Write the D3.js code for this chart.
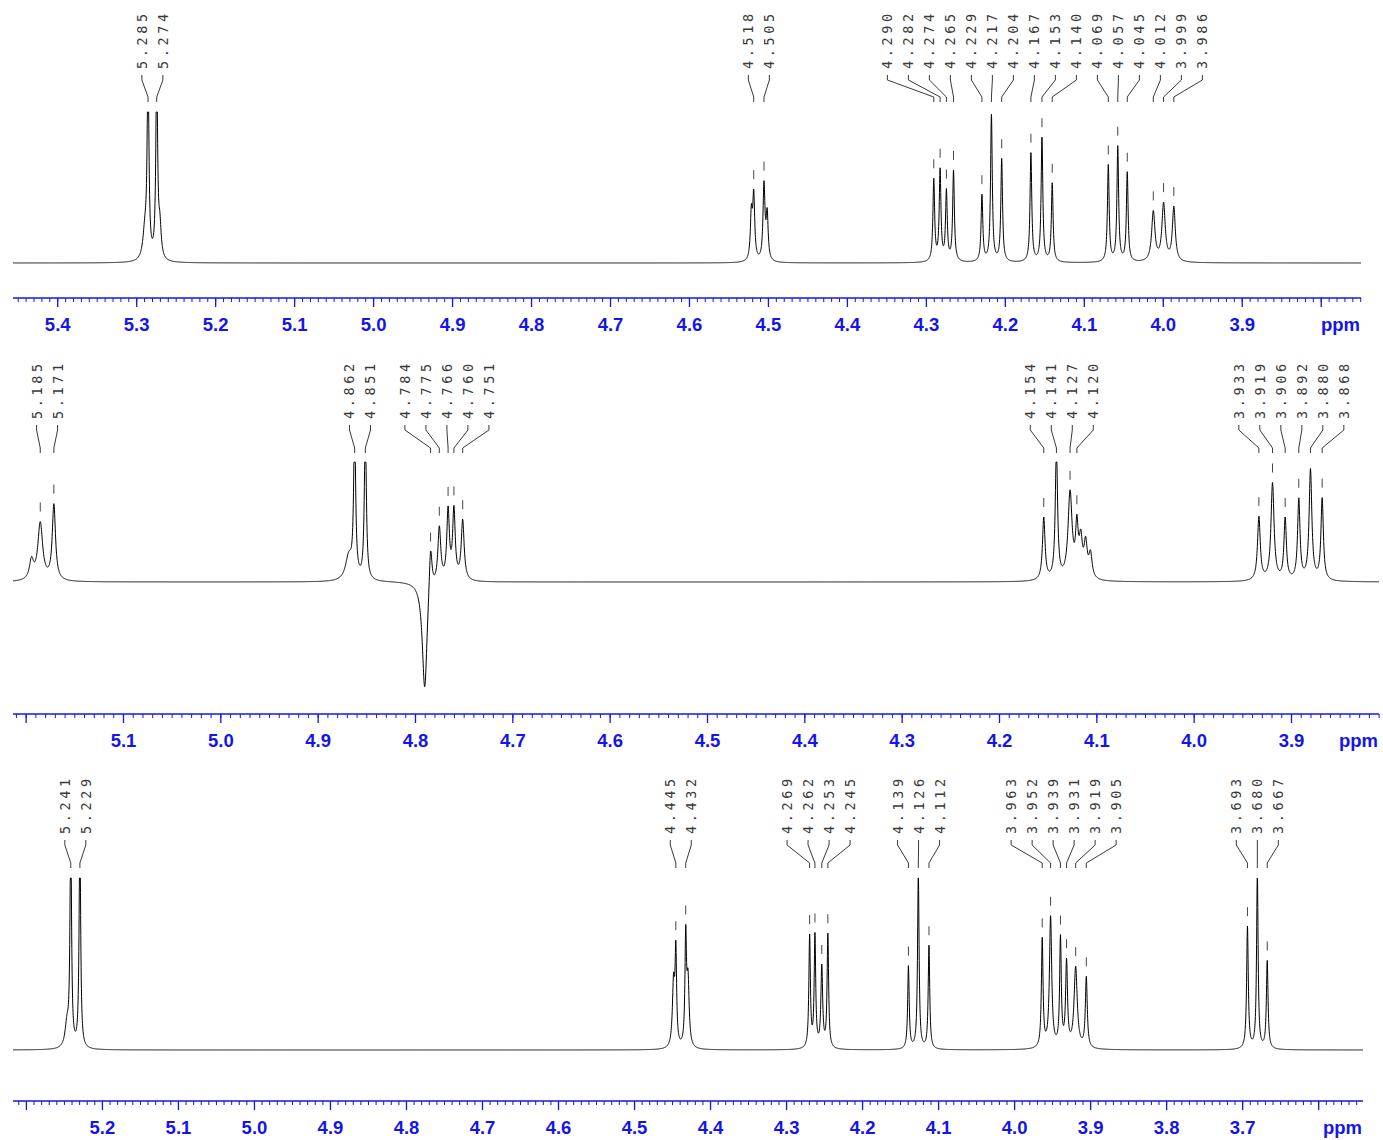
<!DOCTYPE html>
<html>
<head>
<meta charset="utf-8">
<script src="https://cdn.jsdelivr.net/npm/d3@7"></script>
<style>
  html, body { margin: 0; padding: 0; background: #fff; }
  svg { display: block; }
</style>
</head>
<body>
<svg id="chart" width="1383" height="1140"></svg>
<script>
// ---------------- DATA ----------------
// Panel 1
const domain1 = [5.456, 3.749];
const tickLabels1 = ["5.4","5.3","5.2","5.1","5.0","4.9","4.8","4.7","4.6","4.5","4.4","4.3","4.2","4.1","4.0","3.9"];
const labels1  = ["5.285","5.274","4.518","4.505","4.290","4.282","4.274","4.265","4.229","4.217","4.204","4.167","4.153","4.140","4.069","4.057","4.045","4.012","3.999","3.986"];
const heights1 = [130,130,42,50,54,60,46,60,44,97,68,72,82,52,64,76,59,33,38,36];
const widths1  = [0.0013,0.0013,0.0015,0.0015,0.0013,0.0013,0.0013,0.0013,0.0013,0.0013,0.0013,0.0013,0.0013,0.0013,0.0013,0.0013,0.0013,0.0025,0.0025,0.0022];
const extraPpm1    = [5.289, 5.270, 4.521, 4.501];
const extraHeight1 = [18, 20, 30, 30];
const extraWidth1  = [0.003, 0.002, 0.0015, 0.0015];

// Panel 2
const domain2 = [5.213, 3.8096];
const tickLabels2 = ["5.1","5.0","4.9","4.8","4.7","4.6","4.5","4.4","4.3","4.2","4.1","4.0","3.9"];
const labels2  = ["5.185","5.171","4.862","4.851","4.784","4.775","4.766","4.760","4.751","4.154","4.141","4.127","4.120","3.933","3.919","3.906","3.892","3.880","3.868"];
const heights2 = [48,63,130,130,41,46,58,58,50,52,110,72,40,53,81,51,67,92,68];
const widths2  = [0.003,0.002,0.0012,0.0012,0.0018,0.0018,0.0016,0.0016,0.0018,0.0016,0.0014,0.0025,0.0016,0.0017,0.0019,0.0015,0.0015,0.0017,0.0015];
const extraPpm2    = [5.194, 4.868, 4.790, 4.116, 4.111, 4.106];
const extraHeight2 = [16, 20, -92, 30, 28, 20];
const extraWidth2  = [0.0025, 0.004, 0.003, 0.002, 0.002, 0.002];

// Panel 3
const domain3 = [5.317, 3.541];
const tickLabels3 = ["5.2","5.1","5.0","4.9","4.8","4.7","4.6","4.5","4.4","4.3","4.2","4.1","4.0","3.9","3.8","3.7"];
const labels3  = ["5.241","5.229","4.445","4.432","4.269","4.262","4.253","4.245","4.139","4.126","4.112","3.963","3.952","3.939","3.931","3.919","3.905","3.693","3.680","3.667"];
const heights3 = [130,130,53,62,65,65,47,66,48,102,60,63,76,63,49,47,41,71,102,51];
const widths3  = [0.0012,0.0012,0.0012,0.0012,0.0012,0.0012,0.0014,0.0012,0.0012,0.0012,0.0012,0.0013,0.0018,0.0013,0.0015,0.0025,0.0015,0.0013,0.0012,0.0013];
const extraPpm3    = [5.246, 4.448, 4.429];
const extraHeight3 = [13, 37, 38];
const extraWidth3  = [0.003, 0.0018, 0.0018];

// ---------------- DRAWING ----------------
const AXIS_BLUE = "#1414ee";
const svg = d3.select("#chart");

const panels = [
  { labels: labels1, heights: heights1, widths: widths1, ePpm: extraPpm1, eH: extraHeight1, eW: extraWidth1,
    domain: domain1, tickLabels: tickLabels1,
    x0: 13, x1: 1361, textBottom: 69, connBottom: 102, clipTop: 112, baseline: 263, axisY: 298 },
  { labels: labels2, heights: heights2, widths: widths2, ePpm: extraPpm2, eH: extraHeight2, eW: extraWidth2,
    domain: domain2, tickLabels: tickLabels2,
    x0: 13, x1: 1379, textBottom: 419, connBottom: 453, clipTop: 462, baseline: 582, axisY: 714 },
  { labels: labels3, heights: heights3, widths: widths3, ePpm: extraPpm3, eH: extraHeight3, eW: extraWidth3,
    domain: domain3, tickLabels: tickLabels3,
    x0: 13, x1: 1363, textBottom: 834, connBottom: 868, clipTop: 878, baseline: 1050, axisY: 1101 }
];

panels.forEach(p => {
  const g = svg.append("g");
  const x = d3.scaleLinear().domain(p.domain).range([p.x0, p.x1]);
  const y = d3.scaleLinear().domain([0, 100]).range([p.baseline, p.clipTop]);

  // peak components
  const comps = p.labels.map((l, i) => ({ ppm: +l, h: p.heights[i], w: p.widths[i] }))
    .concat(p.ePpm.map((v, i) => ({ ppm: v, h: p.eH[i], w: p.eW[i] })));
  const f = ppm => d3.sum(comps, c => c.h / (1 + Math.pow((ppm - c.ppm) / c.w, 2)));
  const yc = v => Math.max(p.clipTop, y(v));

  // spectrum line
  const step = 0.0002;
  const pts = d3.range(p.domain[0], p.domain[1] - step / 2, -step).map(v => [v, f(v)]);
  g.append("path")
    .attr("d", d3.line().x(d => x(d[0])).y(d => yc(d[1]))(pts))
    .attr("fill", "none").attr("stroke", "#000").attr("stroke-width", 1);

  // peak labels, spread out
  const peaks = p.labels.map((l, i) => ({ label: l, px: x(+l) })).sort((a, b) => a.px - b.px);
  const gap = 21;
  let clusters = peaks.map(pk => ({ items: [pk], center: pk.px }));
  let merged = true;
  while (merged) {
    merged = false;
    for (let i = 0; i < clusters.length - 1; i++) {
      const a = clusters[i], b = clusters[i + 1];
      const aEnd = a.center + (a.items.length - 1) * gap / 2;
      const bStart = b.center - (b.items.length - 1) * gap / 2;
      if (bStart - aEnd < gap) {
        const items = a.items.concat(b.items);
        clusters.splice(i, 2, { items, center: d3.mean(items, d => d.px) });
        merged = true;
        break;
      }
    }
  }
  clusters.forEach(c => {
    c.items.forEach((pk, j) => {
      pk.lx = c.center + (j - (c.items.length - 1) / 2) * gap;
    });
  });

  peaks.forEach(pk => {
    g.append("text")
      .attr("transform", `translate(${pk.lx},${p.textBottom}) rotate(-90)`)
      .attr("dominant-baseline", "central")
      .attr("text-anchor", "start")
      .style("font-family", "'DejaVu Sans Mono', monospace")
      .style("font-size", "13.5px")
      .style("letter-spacing", "3.6px")
      .attr("fill", "#3a3a3a")
      .text(pk.label);
    const t = p.textBottom;
    g.append("path")
      .attr("d", `M${pk.lx},${t + 6}V${t + 11}L${pk.px},${p.connBottom - 5}V${p.connBottom}`)
      .attr("fill", "none").attr("stroke", "#222").attr("stroke-width", 0.9);
    const top = yc(f(+pk.label));
    if (top - 19 > p.connBottom + 3) {
      g.append("line")
        .attr("x1", pk.px).attr("x2", pk.px)
        .attr("y1", top - 19).attr("y2", top - 10)
        .attr("stroke", "#444").attr("stroke-width", 1);
    }
  });

  // axis
  const lo = Math.min(...p.domain), hi = Math.max(...p.domain);
  const majors = d3.range(Math.ceil(lo * 10 - 1e-9), Math.floor(hi * 10 + 1e-9) + 1).map(v => v / 10);
  const minors = d3.range(Math.ceil(lo * 100 - 1e-9), Math.floor(hi * 100 + 1e-9) + 1).map(v => v / 100);

  const ax = g.append("g").attr("transform", `translate(0,${p.axisY})`);
  ax.append("line").attr("x1", p.x0).attr("x2", p.x1).attr("y1", 0).attr("y2", 0)
    .attr("stroke", AXIS_BLUE).attr("stroke-width", 1.6);

  const minorAxis = d3.axisBottom(x).tickValues(minors).tickSize(4).tickSizeOuter(0).tickFormat("");
  const gm = ax.append("g").call(minorAxis);
  gm.select(".domain").remove();
  gm.selectAll(".tick line").attr("stroke", AXIS_BLUE).attr("stroke-width", 1);

  const majorAxis = d3.axisBottom(x).tickValues(majors).tickSize(9).tickSizeOuter(0)
    .tickFormat(d => p.tickLabels.includes(d.toFixed(1)) ? d.toFixed(1) : "");
  const gM = ax.append("g").call(majorAxis);
  gM.select(".domain").remove();
  gM.selectAll(".tick line").attr("stroke", AXIS_BLUE).attr("stroke-width", 1.3);
  gM.selectAll(".tick text")
    .attr("y", 33).attr("dy", null)
    .attr("fill", AXIS_BLUE)
    .style("font-family", "'Liberation Sans', Arial, sans-serif")
    .style("font-weight", "bold")
    .style("font-size", "18.5px");

  ax.append("text")
    .attr("x", p.x1 - 1).attr("y", 33)
    .attr("text-anchor", "end")
    .attr("fill", AXIS_BLUE)
    .style("font-family", "'Liberation Sans', Arial, sans-serif")
    .style("font-weight", "bold")
    .style("font-size", "18.5px")
    .text("ppm");
});
</script>
</body>
</html>
